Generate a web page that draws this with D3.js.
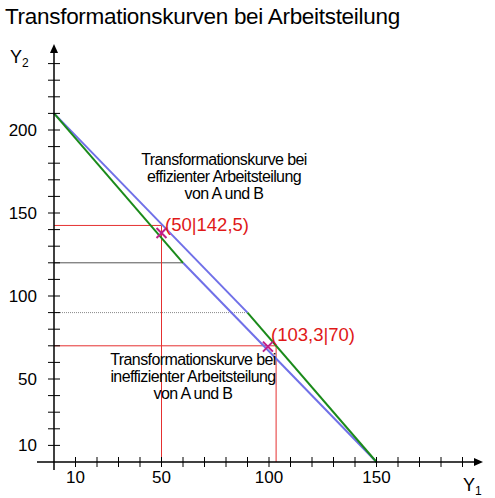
<!DOCTYPE html><html><head><meta charset="utf-8">
<script src="https://cdn.jsdelivr.net/npm/d3@7"></script>
<style>body{margin:0;background:#fff}text{font-family:"Liberation Sans",Arial,sans-serif}</style></head><body>
<svg id="c" width="495" height="498"></svg>
<script>
const xTickLabels=[10,50,100,150];
const yTickLabels=[10,50,100,150,200];
const effBlue=[[0,210],[90,90]], effGreen=[[90,90],[150,0]];
const ineffGreen=[[0,210],[60,120]], ineffBlue=[[60,120],[150,0]];
const grayLines=[[120,60],[90,90]];
const redPoints=[[50,142.5],[103.3,70]];
const markers=[[50,138],[99.5,69.5]];
const pointLabels=["(50|142,5)","(103,3|70)"];
const svg=d3.select("#c");
const x=d3.scaleLinear().domain([0,150]).range([54,376.5]);
const y=d3.scaleLinear().domain([0,200]).range([462,130]);
svg.append("text").attr("x",5).attr("y",24).attr("font-size",22.5).attr("letter-spacing",-0.3).text("Transformationskurven bei Arbeitsteilung");
grayLines.forEach(([yy,xx],i)=>svg.append("line").attr("x1",x(0)).attr("x2",x(xx)).attr("y1",y(yy)).attr("y2",y(yy)).attr("stroke",i?"#888":"#555").attr("stroke-width",1).attr("stroke-dasharray",i?"1,1":null));
redPoints.forEach(([px,py])=>{
 svg.append("line").attr("x1",x(0)).attr("x2",x(px)).attr("y1",y(py)).attr("y2",y(py)).attr("stroke","#e53030");
 svg.append("line").attr("x1",x(px)).attr("x2",x(px)).attr("y1",y(py)).attr("y2",y(0)).attr("stroke","#e53030");
});
const ln=d3.line().x(d=>x(d[0])).y(d=>y(d[1]));
[[effBlue,"#7070e8"],[ineffBlue,"#7070e8"],[effGreen,"#1a8a1a"],[ineffGreen,"#1a8a1a"]].forEach(([d,c])=>svg.append("path").attr("d",ln(d)).attr("fill","none").attr("stroke",c).attr("stroke-width",2));
svg.append("line").attr("x1",37).attr("x2",480).attr("y1",y(0)).attr("y2",y(0)).attr("stroke","#000").attr("stroke-width",1.5);
svg.append("path").attr("d",`M${483},${y(0)} l-9,-4 v8 z`);
svg.append("line").attr("x1",x(0)).attr("x2",x(0)).attr("y1",470).attr("y2",50).attr("stroke","#000").attr("stroke-width",1.5);
svg.append("path").attr("d",`M${x(0)},44 l-4,9 h8 z`);
d3.range(10,200,10).forEach(v=>svg.append("line").attr("x1",x(v)).attr("x2",x(v)).attr("y1",y(0)-5).attr("y2",y(0)+5).attr("stroke","#000"));
d3.range(10,250,10).forEach(v=>svg.append("line").attr("x1",x(0)-6).attr("x2",x(0)+6).attr("y1",y(v)).attr("y2",y(v)).attr("stroke","#000"));
xTickLabels.forEach(v=>svg.append("text").attr("x",x(v)).attr("y",483).attr("text-anchor","middle").attr("font-size",17).text(v));
yTickLabels.forEach(v=>svg.append("text").attr("x",37).attr("y",y(v)+6).attr("text-anchor","end").attr("font-size",17).text(v));
const y2=svg.append("text").attr("x",10).attr("y",63).attr("font-size",18).text("Y");y2.append("tspan").attr("font-size",12).attr("dy",4).text("2");
const y1=svg.append("text").attr("x",463).attr("y",491).attr("font-size",18).text("Y");y1.append("tspan").attr("font-size",12).attr("dy",4).text("1");
markers.forEach(([mx,my])=>{
 const cx=x(mx),cy=y(my);
 svg.append("path").attr("d",`M${cx-5},${cy-5}L${cx+5},${cy+5}M${cx-5},${cy+5}L${cx+5},${cy-5}`).attr("stroke","#c0208a").attr("stroke-width",2);
});
svg.append("text").attr("x",165).attr("y",231).attr("font-size",18.5).attr("fill","#e01818").text(pointLabels[0]);
svg.append("text").attr("x",271).attr("y",341).attr("font-size",18.5).attr("fill","#e01818").text(pointLabels[1]);
const block=(cx,cy,lines)=>lines.forEach((t,i)=>svg.append("text").attr("x",cx).attr("y",cy+i*17).attr("text-anchor","middle").attr("font-size",16).attr("letter-spacing",-0.6).text(t));
block(224,165,["Transformationskurve bei","effizienter Arbeitsteilung","von A und B"]);
block(193,365,["Transformationskurve bei","ineffizienter Arbeitsteilung","von A und B"]);
</script></body></html>
